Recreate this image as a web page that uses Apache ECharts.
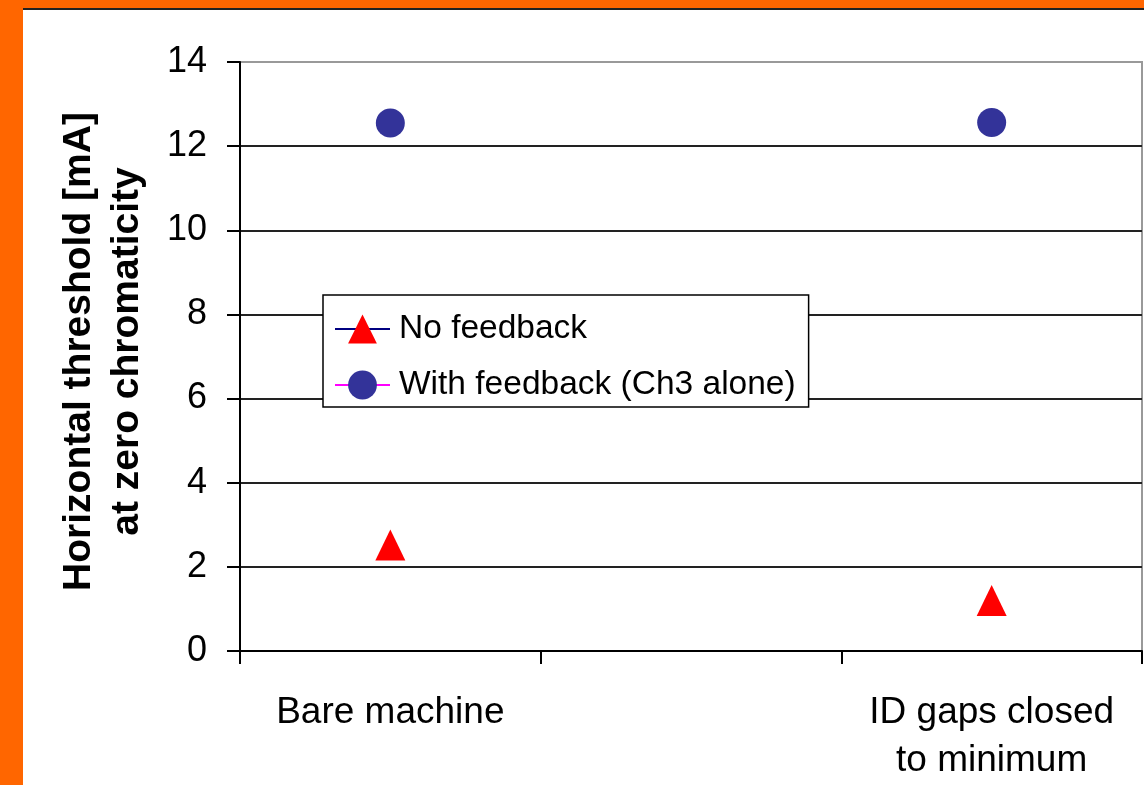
<!DOCTYPE html>
<html>
<head>
<meta charset="utf-8">
<script src="https://cdn.jsdelivr.net/npm/echarts@6/dist/echarts.min.js"></script>
<style>
html,body{margin:0;padding:0;background:#fff;}
#chart{width:1144px;height:785px;}
</style>
</head>
<body>
<div id="chart"></div>
<script>
const categories = ['Bare machine', '', 'ID gaps closed\nto minimum'];
const noFeedback = [2.52, null, 1.2];
const withFeedback = [12.55, null, 12.56];
const seriesNames = ['No feedback', 'With feedback (Ch3 alone)'];
const yTitle = 'Horizontal threshold [mA]\nat zero chromaticity';

const FONT = '"Liberation Sans", Arial, sans-serif';
const chart = echarts.init(document.getElementById('chart'));
chart.setOption({
  animation: false,
  backgroundColor: '#fff',
  graphic: [
    {type: 'rect', shape: {x: 0, y: 0, width: 23, height: 785}, style: {fill: '#FF6600'}, z: 100},
    {type: 'rect', shape: {x: 0, y: 0, width: 1144, height: 8}, style: {fill: '#FF6600'}, z: 100},
    {type: 'rect', shape: {x: 23, y: 8, width: 1121, height: 2}, style: {fill: '#222'}, z: 100}
  ],
  grid: {
    left: 240, right: 2, top: 62, bottom: 133,
    show: true, borderColor: '#999', borderWidth: 2, backgroundColor: 'transparent'
  },
  legend: {
    orient: 'vertical',
    left: 323, top: 295,
    padding: [16, 13, 4, 11],
    itemWidth: 55, itemHeight: 36, itemGap: 20,
    backgroundColor: '#fff',
    borderColor: '#000', borderWidth: 1.5,
    textStyle: {fontFamily: FONT, fontSize: 33.5, lineHeight: 36, color: '#000', padding: [0, 0, 0, 4]},
    data: seriesNames,
    z: 10
  },
  xAxis: {
    type: 'category',
    data: categories,
    boundaryGap: true,
    axisLine: {lineStyle: {color: '#000', width: 2}},
    axisTick: {show: true, length: 13, alignWithLabel: false, lineStyle: {color: '#000', width: 2}},
    axisLabel: {fontFamily: FONT, fontSize: 37, color: '#000', margin: 38, lineHeight: 48, interval: 0},
    splitLine: {show: false}
  },
  yAxis: {
    type: 'value',
    min: 0, max: 14, interval: 2,
    name: yTitle,
    nameLocation: 'middle',
    nameRotate: 90,
    nameGap: 89,
    nameTextStyle: {fontFamily: FONT, fontSize: 39, fontWeight: 'bold', color: '#000', lineHeight: 48, padding: [0, 0, 0, 10]},
    axisLine: {show: true, lineStyle: {color: '#000', width: 2}},
    axisTick: {show: true, length: 13, lineStyle: {color: '#000', width: 2}},
    axisLabel: {fontFamily: FONT, fontSize: 36, color: '#000', margin: 33},
    splitLine: {show: true, showMaxLine: false, lineStyle: {color: '#222', width: 2}}
  },
  series: [
    {
      name: seriesNames[0], type: 'line', data: noFeedback,
      symbol: 'triangle', symbolSize: [30, 31], showSymbol: true, connectNulls: false,
      itemStyle: {color: '#FF0000'},
      lineStyle: {color: '#000080', width: 2},
      z: 5
    },
    {
      name: seriesNames[1], type: 'line', data: withFeedback,
      symbol: 'circle', symbolSize: 29, showSymbol: true, connectNulls: false,
      itemStyle: {color: '#333399'},
      lineStyle: {color: '#FF00FF', width: 2},
      z: 5
    }
  ]
});
</script>
</body>
</html>
